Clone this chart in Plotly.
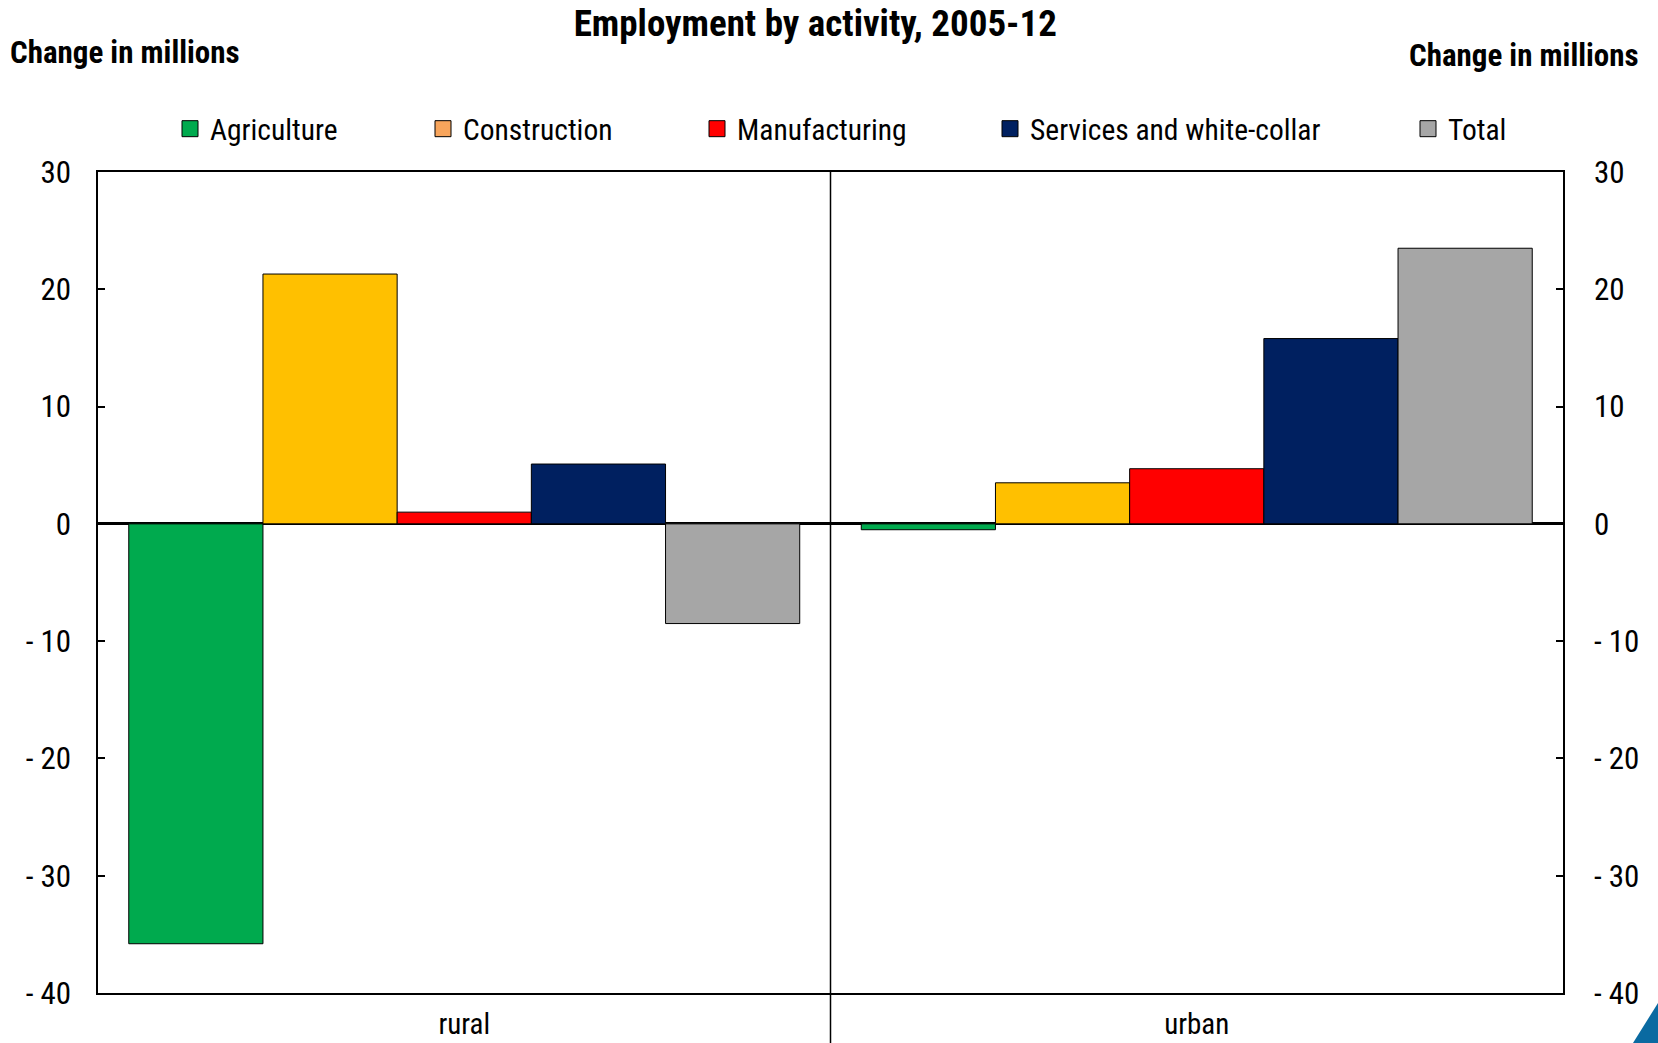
import plotly.graph_objects as go

# ---- data ----
categories = ["rural", "urban"]
series_names = ["Agriculture", "Construction", "Manufacturing", "Services and white-collar", "Total"]
agriculture = [-35.8, -0.5]
construction = [21.3, 3.5]
manufacturing = [1.0, 4.7]
services = [5.1, 15.8]
total = [-8.5, 23.5]
tick_vals = [30, 20, 10, 0, -10, -20, -30, -40]
tick_text = ["30", "20", "10", "0", "- 10", "- 20", "- 30", "- 40"]

bar_colors = ["#00AA4E", "#FFC000", "#FF0000", "#002060", "#A6A6A6"]
legend_colors = ["#00AA4E", "#F8A55C", "#FF0000", "#002060", "#A6A6A6"]
values = [agriculture, construction, manufacturing, services, total]

FONT = "Liberation Sans Narrow, Arial Narrow, Roboto Condensed, sans-serif"
W, H = 1658, 1043
L, R, T, B = 98, 95, 172, 50
pw = W - L - R
ph = H - T - B


def px_x(px):
    return (px - L) / pw


def px_y(py):
    return (H - B - py) / ph


fig = go.Figure()
for name, col, vals in zip(series_names, bar_colors, values):
    fig.add_trace(go.Bar(x=categories, y=vals, name=name, marker=dict(color=col, line=dict(color="black", width=1)),
                         showlegend=False))

# legend entries (one legend per entry for exact spacing)
legend_px = [170, 423, 697, 990, 1408]
layout_legends = {}
for i, (name, col) in enumerate(zip(series_names, legend_colors)):
    key = "legend" if i == 0 else f"legend{i+1}"
    fig.add_trace(go.Scatter(x=[None], y=[None], mode="markers", name=name,
                             marker=dict(symbol="square", size=16, color=col, line=dict(color="black", width=1)),
                             showlegend=True, legend=key))
    layout_legends[key] = dict(x=px_x(legend_px[i]), xanchor="left", y=px_y(129), yanchor="middle",
                               orientation="h", bgcolor="rgba(0,0,0,0)",
                               font=dict(family=FONT, size=29.5, color="black"))

# right axis carrier
fig.add_trace(go.Scatter(x=[categories[0]], y=[None], yaxis="y2", showlegend=False, hoverinfo="skip"))

fig.update_layout(
    width=W, height=H,
    margin=dict(l=L, r=R, t=T, b=B, autoexpand=False),
    paper_bgcolor="white", plot_bgcolor="white",
    barmode="group", bargap=0.084, bargroupgap=0,
    font=dict(family=FONT, size=29, color="black"),
    title=dict(text="<b>Employment by activity, 2005-12</b>", x=771 * W / 1568 / W, xanchor="center",
               xref="container", y=1 - 23 / H, yanchor="middle", font=dict(family=FONT, size=37, color="black")),
    xaxis=dict(showline=True, linecolor="black", linewidth=1.5, mirror=True, ticks="", showgrid=False,
               tickfont=dict(family=FONT, size=29), range=[-0.5, 1.5], ticklabelstandoff=4, automargin=False),
    yaxis=dict(range=[-40, 30], tickvals=tick_vals, ticktext=tick_text, showgrid=False,
               showline=True, linecolor="black", linewidth=1.5, mirror=True,
               ticks="inside", ticklen=7, tickcolor="black", tickwidth=2,
               zeroline=True, zerolinecolor="black", zerolinewidth=2.5,
               tickfont=dict(family=FONT, size=31), ticklabelstandoff=19, automargin=False),
    yaxis2=dict(range=[-40, 30], tickvals=tick_vals, ticktext=tick_text, overlaying="y", side="right",
                showgrid=False, zeroline=False, ticks="inside", ticklen=7, tickcolor="black", tickwidth=2,
                tickfont=dict(family=FONT, size=31), ticklabelstandoff=30, automargin=False),
    **layout_legends,
)

fig.add_annotation(text="<b>Change in millions</b>", xref="paper", yref="paper", x=px_x(8), y=px_y(53),
                   xanchor="left", yanchor="middle", showarrow=False, font=dict(family=FONT, size=31, color="black"))
fig.add_annotation(text="<b>Change in millions</b>", xref="paper", yref="paper", x=px_x(1641), y=px_y(55),
                   xanchor="right", yanchor="middle", showarrow=False, font=dict(family=FONT, size=31, color="black"))

# divider between categories, extending below the axis
fig.add_shape(type="line", xref="x", yref="paper", x0=0.5, x1=0.5, y0=px_y(H), y1=1,
              line=dict(color="black", width=1.5))

# corner decoration
fig.add_shape(type="path", xref="paper", yref="paper",
              path=f"M {px_x(1633)} {px_y(H)} L {px_x(W)} {px_y(1003)} L {px_x(W)} {px_y(H)} Z",
              fillcolor="#0A6AA1", line=dict(width=0))

fig.write_html("out.html", config={"displayModeBar": False},
               post_script="document.body.style.margin='0';document.body.style.overflow='hidden';")
